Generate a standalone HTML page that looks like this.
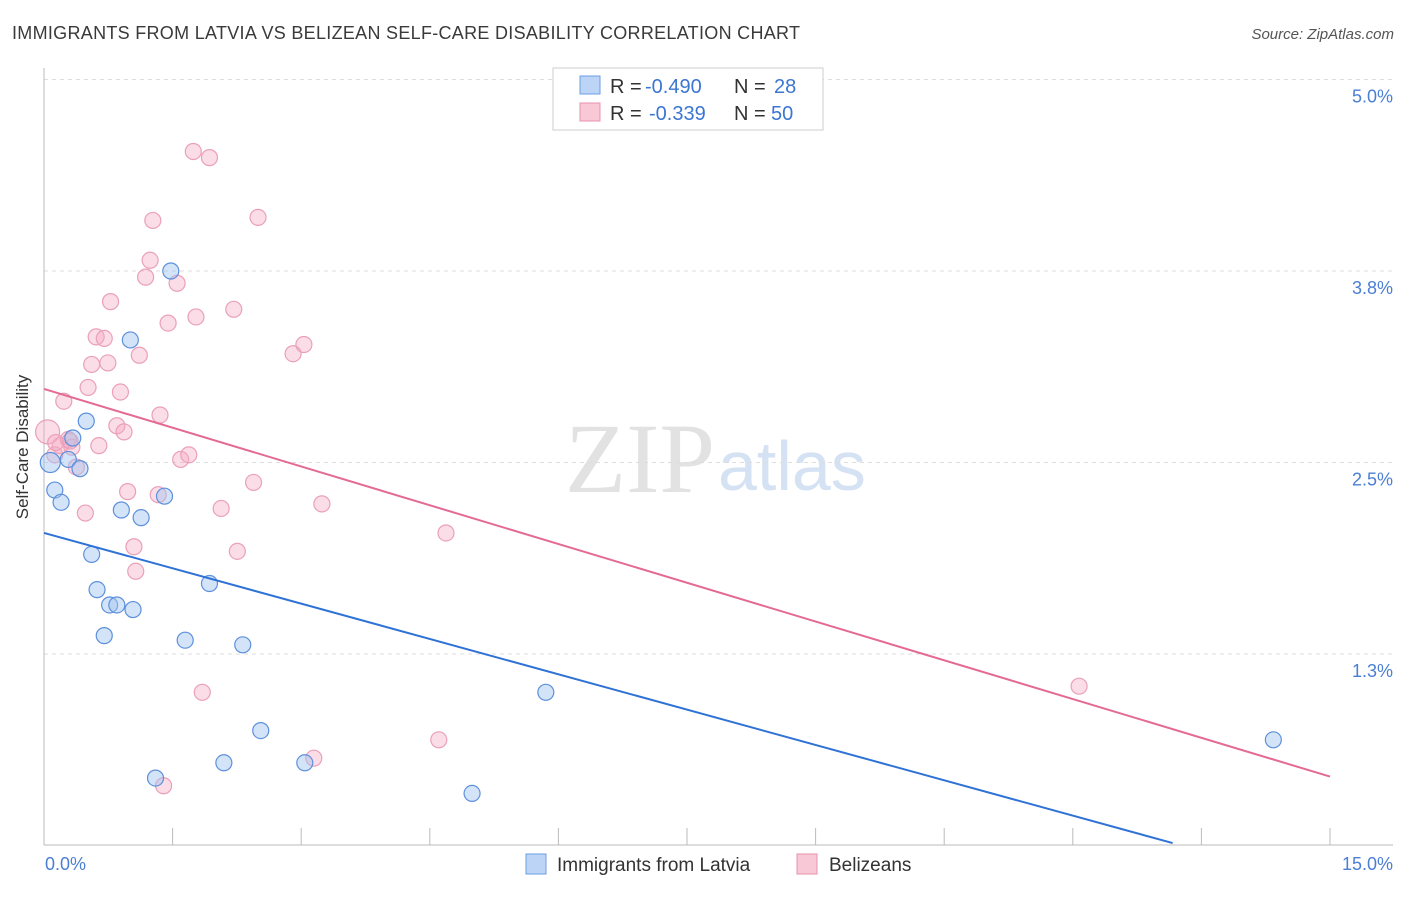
<!DOCTYPE html>
<html><head><meta charset="utf-8"><style>
body{margin:0;background:#fff;font-family:"Liberation Sans",sans-serif}
</style></head><body>
<svg width="1406" height="892" xmlns="http://www.w3.org/2000/svg">
<text x="12" y="39" font-size="18" fill="#3a3a3a" textLength="788">IMMIGRANTS FROM LATVIA VS BELIZEAN SELF-CARE DISABILITY CORRELATION CHART</text>
<text x="1394" y="39" font-size="15" fill="#555" font-style="italic" text-anchor="end">Source: ZipAtlas.com</text>
<text x="715" y="492" font-size="100" fill="#e2e2e2" font-family="Liberation Serif" text-anchor="end">ZIP</text>
<text x="718" y="490" font-size="70" fill="#d5e2f3">atlas</text>
<g id="grid"></g>
<line x1="44" y1="68" x2="44" y2="845" stroke="#bbb"/>
<line x1="44" y1="845" x2="1393" y2="845" stroke="#bbb"/>
<g id="xticks"></g>
<text x="36" y="455" font-size="17" fill="#333" text-anchor="middle" transform="rotate(-90 28 455)">Self-Care Disability</text>
<text x="45" y="870" font-size="18" fill="#4a7fd4">0.0%</text>
<text x="1393" y="870" font-size="18" fill="#4a7fd4" text-anchor="end">15.0%</text>
<g id="pts"></g>
<g id="lines"></g>
<g>
<rect x="553" y="68" width="270" height="62" fill="#fff" stroke="#ccc"/>
<rect x="580" y="76" width="20" height="18" fill="#bcd4f5" stroke="#6d9ee3"/>
<text x="610" y="93" font-size="20" fill="#333">R =</text>
<text x="645" y="93" font-size="20" fill="#3b76d2">-0.490</text>
<text x="734" y="93" font-size="20" fill="#333">N =</text>
<text x="774" y="93" font-size="20" fill="#3b76d2">28</text>
<rect x="580" y="103" width="20" height="18" fill="#f8c8d6" stroke="#e890ab"/>
<text x="610" y="120" font-size="20" fill="#333">R =</text>
<text x="649" y="120" font-size="20" fill="#3b76d2">-0.339</text>
<text x="734" y="120" font-size="20" fill="#333">N =</text>
<text x="771" y="120" font-size="20" fill="#3b76d2">50</text>
</g>
<g><rect x="526" y="854" width="20" height="20" fill="#bcd4f5" stroke="#6d9ee3"/><text x="557" y="871" font-size="19" fill="#333">Immigrants from Latvia</text></g>
<g><rect x="797" y="854" width="20" height="20" fill="#f8c8d6" stroke="#e890ab"/><text x="829" y="871" font-size="19" fill="#333">Belizeans</text></g>
</svg>
<script>
const yTicks=[1.25,2.5,3.75,5.0];
const yTickLabels=["1.3%","2.5%","3.8%","5.0%"];
const xTicks=[0,1,2,3,4,5,6,7,8,9,10];
const blueX=[0.07,0.12,0.19,0.27,0.32,0.4,0.47,0.53,0.59,0.67,0.73,0.81,0.86,0.96,0.99,1.08,1.24,1.34,1.41,1.57,1.84,2.0,2.21,2.41,2.9,4.76,5.58,13.67];
const blueY=[2.5,2.32,2.24,2.52,2.66,2.46,2.77,1.9,1.67,1.37,1.57,1.57,2.19,3.3,1.54,2.14,0.44,2.28,3.75,1.34,1.71,0.54,1.31,0.75,0.54,0.34,1.0,0.69];
const pinkX=[0.04,0.12,0.18,0.22,0.27,0.31,0.36,0.46,0.49,0.53,0.58,0.61,0.67,0.71,0.74,0.81,0.85,0.89,0.93,1.0,1.02,1.06,1.13,1.18,1.21,1.27,1.29,1.33,1.38,1.48,1.52,1.61,1.66,1.69,1.76,1.84,1.97,2.11,2.15,2.33,2.38,2.77,2.89,3.0,3.09,4.39,4.47,11.51,0.13,0.29];
const pinkY=[2.7,2.55,2.61,2.9,2.65,2.6,2.47,2.17,2.99,3.14,3.32,2.61,3.31,3.15,3.55,2.74,2.96,2.7,2.31,1.95,1.79,3.2,3.71,3.82,4.08,2.29,2.81,0.39,3.41,3.67,2.52,2.55,4.53,3.45,1.0,4.49,2.2,3.5,1.92,2.37,4.1,3.21,3.27,0.57,2.23,0.69,2.04,1.04,2.63,2.64];
const blueLine=[[0,2.04],[12.55,0.016]];
const pinkLine=[[0,2.98],[14.3,0.45]];
const X0=44,PX=89.93,Y0=845.5,PY=153.2;
const sx=v=>X0+v*PX, sy=v=>Y0-v*PY;
const NS="http://www.w3.org/2000/svg";
function mk(t,a,p){const e=document.createElementNS(NS,t);for(const k in a)e.setAttribute(k,a[k]);p.appendChild(e);return e;}
const grid=document.getElementById('grid');
yTicks.forEach((v,i)=>{
 const l=mk('line',{x1:44,x2:1393,y1:sy(v),y2:sy(v),stroke:'#ddd','stroke-dasharray':'4 4'},grid);
 
 
 const t=mk('text',{x:1393,y:sy(v)+23,'font-size':18,fill:'#4a7fd4','text-anchor':'end'},grid);
 t.textContent=yTickLabels[i];
 
 
});
const xt=document.getElementById('xticks');
xTicks.forEach(i=>{
 const x=X0+i*128.6;
 const l=mk('line',{x1:x,x2:x,y1:828,y2:845,stroke:'#bbb'},xt);
 
 
});
const pts=document.getElementById('pts');
pinkX.forEach((x,i)=>{
 const c=mk('circle',{cx:sx(x),cy:sy(pinkY[i]),r:i==0?12:8,fill:'rgba(244,170,195,0.4)',stroke:'#eaa0b8','stroke-width':1.2},pts);
 
 
});
blueX.forEach((x,i)=>{
 const c=mk('circle',{cx:sx(x),cy:sy(blueY[i]),r:i==0?10:8,fill:'rgba(160,195,240,0.45)',stroke:'#5d90dd','stroke-width':1.2},pts);
 
 
});
const lg=document.getElementById('lines');
const bl=mk('line',{x1:sx(blueLine[0][0]),y1:sy(blueLine[0][1]),x2:sx(blueLine[1][0]),y2:sy(blueLine[1][1]),stroke:'#2f72d6','stroke-width':2},lg);


const pl=mk('line',{x1:sx(pinkLine[0][0]),y1:sy(pinkLine[0][1]),x2:sx(pinkLine[1][0]),y2:sy(pinkLine[1][1]),stroke:'#e46a95','stroke-width':2},lg);


</script>
</body></html>
